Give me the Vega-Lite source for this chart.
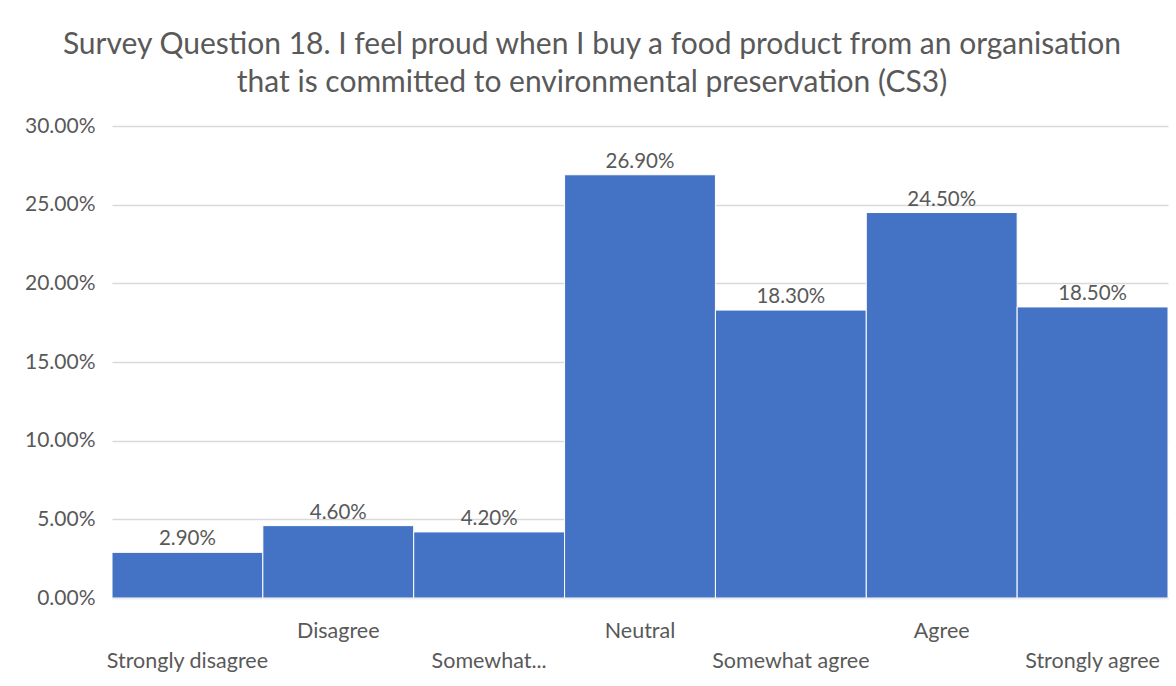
{
  "$schema": "https://vega.github.io/schema/vega-lite/v6.json",
  "width": 1056,
  "height": 472,
  "autosize": {"type": "none"},
  "padding": {"left": 112, "top": 126, "right": 8, "bottom": 88},
  "background": "white",
  "title": {
    "text": ["Survey Question 18. I feel proud when I buy a food product from an organisation", "that is committed to environmental preservation (CS3)"],
    "font": "Lato",
    "fontSize": 30,
    "fontWeight": "normal",
    "color": "#595959",
    "anchor": "middle",
    "dx": -48,
    "offset": 17,
    "lineHeight": 38
  },
  "config": {"view": {"stroke": null}},
  "data": {
    "values": [
      {"response": "Strongly disagree", "pct": 0.029},
      {"response": "Disagree", "pct": 0.046},
      {"response": "Somewhat disagree", "pct": 0.042},
      {"response": "Neutral", "pct": 0.269},
      {"response": "Somewhat agree", "pct": 0.183},
      {"response": "Agree", "pct": 0.245},
      {"response": "Strongly agree", "pct": 0.185}
    ]
  },
  "encoding": {
    "x": {
      "field": "response",
      "type": "nominal",
      "sort": null,
      "scale": {"paddingInner": 0, "paddingOuter": 0},
      "axis": {
        "title": null,
        "labelAngle": 0,
        "labelFont": "Lato",
        "labelFontSize": 21.5,
        "labelColor": "#595959",
        "labelBaseline": "top",
        "labelPadding": {"expr": "indexof(['Disagree','Neutral','Agree'], datum.value) >= 0 ? 22 : 52"},
        "labelExpr": "datum.value == 'Somewhat disagree' ? 'Somewhat...' : datum.value",
        "ticks": false,
        "domain": true,
        "domainColor": "#d9d9d9",
        "labelOverlap": false
      }
    },
    "y": {
      "field": "pct",
      "type": "quantitative",
      "scale": {"domain": [0, 0.3]},
      "axis": {
        "title": null,
        "format": ".2%",
        "values": [0, 0.05, 0.1, 0.15, 0.2, 0.25, 0.3],
        "labelFont": "Lato",
        "labelFontSize": 21,
        "labelColor": "#595959",
        "labelPadding": 17,
        "ticks": false,
        "domain": false,
        "gridColor": "#d9d9d9",
        "gridWidth": 1.3
      }
    }
  },
  "layer": [
    {
      "mark": {"type": "bar", "color": "#4472C4", "stroke": "white", "strokeWidth": 1}
    },
    {
      "mark": {"type": "text", "baseline": "alphabetic", "dy": -7, "font": "Lato", "fontSize": 20.5, "color": "#595959"},
      "encoding": {"text": {"field": "pct", "format": ".2%"}}
    }
  ]
}
